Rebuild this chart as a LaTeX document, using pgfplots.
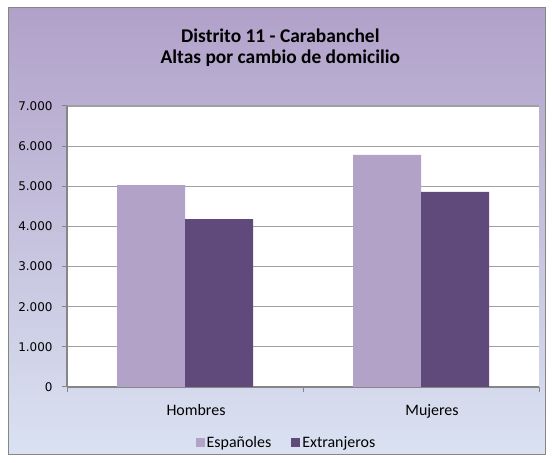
\documentclass[border=0pt]{standalone}
\usepackage{pgfplots}
\pgfplotsset{compat=1.18}
\usepackage{fontspec}
\setmainfont{Carlito}
\newfontfamily\dejavu{DejaVu Sans}
\definecolor{espcol}{RGB}{179,162,199}
\definecolor{extcol}{RGB}{96,74,123}
\definecolor{bgtop}{RGB}{177,161,201}
\definecolor{bgbot}{RGB}{218,226,242}
\definecolor{gridcol}{RGB}{160,160,160}
\definecolor{axiscol}{RGB}{134,134,134}
\definecolor{framecol}{RGB}{134,134,134}
\begin{document}
\begin{tikzpicture}[x=1bp,y=1bp]
\fill[white] (0,0) rectangle (552,463);
\shade[top color=bgtop, bottom color=bgbot] (8,8) rectangle (545,455);
\draw[framecol, line width=1bp] (8,8) rectangle (545,455);
\begin{axis}[
  at={(67bp,76bp)}, anchor=south west,
  scale only axis, width=472bp, height=281bp,
  axis background/.style={fill=white},
  ybar=0pt, bar width=68bp,
  xmin=-0.5, xmax=1.5, ymin=0, ymax=7000,
  xtick={0,1}, xticklabels={Hombres,Mujeres},
  minor xtick={-0.5,0.5,1.5},
  ytick={0,1000,...,7000},
  axis x line*=bottom, axis y line*=left,
  axis line style={axiscol, line width=1.3bp, -},
  ymajorgrids, grid style={gridcol, line width=1.1bp},
  tick align=outside,
  major tick length=5bp, minor tick length=5bp,
  every tick/.style={axiscol, line width=1bp},
  x tick style={draw=none},
  minor x tick style={draw=axiscol, line width=1bp},
  /pgf/number format/assume math mode=true,
  /pgf/number format/1000 sep={.},
  scaled y ticks=false,
  yticklabel style={font=\dejavu\fontsize{12}{14}\selectfont, text=black, xshift=-6bp},
  xticklabel style={font=\fontsize{16}{19}\selectfont, text=black, xshift=11bp, yshift=-9bp},
  title={Distrito 11 - Carabanchel\\Altas por cambio de domicilio},
  title style={font=\bfseries\fontsize{19.5}{20.5}\selectfont, align=center, at={(0.452,1.107)}, anchor=south},
  legend style={at={(0.465,-0.198)}, anchor=center, draw=none, fill=none,
    font=\fontsize{16}{19}\selectfont, /tikz/every even column/.append style={column sep=18bp}},
  legend columns=2,
  legend image code/.code={\fill[#1] (0bp,-4.5bp) rectangle (9bp,4.5bp);},
]
\addplot[fill=espcol, draw=none] coordinates {(0,5030) (1,5780)};
\addplot[fill=extcol, draw=none] coordinates {(0,4180) (1,4860)};
\legend{Españoles,Extranjeros}
\end{axis}
\end{tikzpicture}
\end{document}
